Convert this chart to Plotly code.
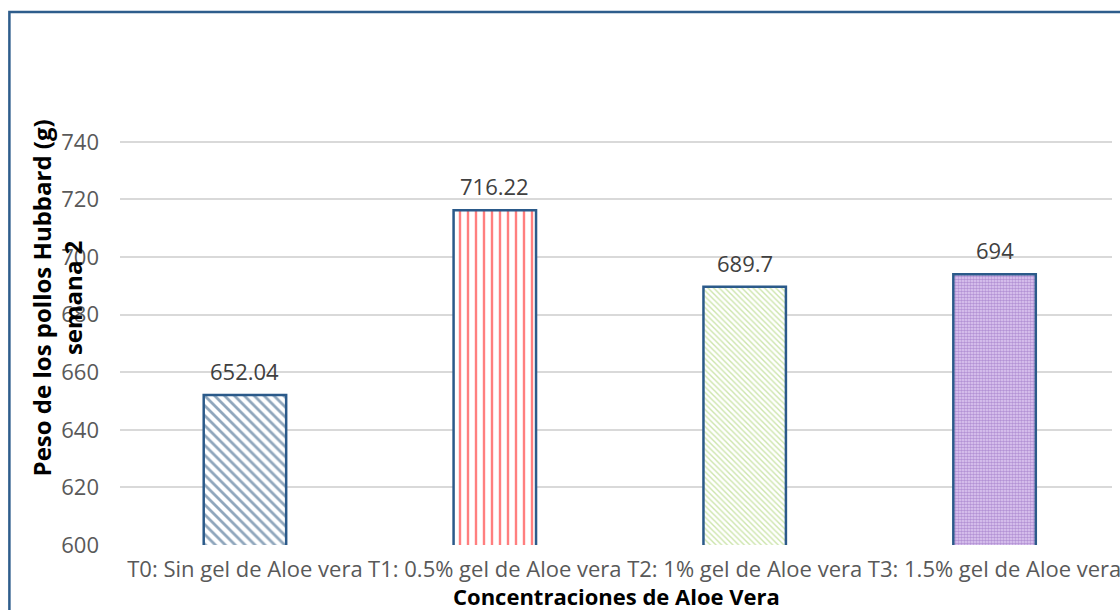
import plotly.graph_objects as go

categorias = [
    "T0: Sin gel de Aloe vera",
    "T1: 0.5% gel de Aloe vera",
    "T2: 1% gel de Aloe vera",
    "T3: 1.5% gel de Aloe vera",
]
peso = [652.04, 716.22, 689.7, 694]
etiquetas = ["652.04", "716.22", "689.7", "694"]
y_ticks = [600, 620, 640, 660, 680, 700, 720, 740]

# fill styles per bar (excel-like patterns)
fondos = ["white", "white", "white", "#E0CCF2"]
patron_color = ["#1F4E79", "#FF0000", "#9BCB5A", "#8558B8"]
patron_forma = ["\\", "|", "\\", "."]
patron_size = [7, 8, 4, 3]
patron_sol = [0.4, 0.3, 0.35, 0.55]

FONT = "Open Sans, Liberation Sans, Arial, sans-serif"

fig = go.Figure()

# one trace per bar so every bar keeps its own pattern
for i in range(len(categorias)):
    fig.add_trace(
        go.Bar(
            x=[categorias[i]],
            y=[peso[i]],
            width=0.33,
            marker=dict(
                color=fondos[i],
                line=dict(color="#2B5A8A", width=2.5),
                pattern=dict(
                    shape=patron_forma[i],
                    fgcolor=patron_color[i],
                    bgcolor=fondos[i],
                    size=patron_size[i],
                    solidity=patron_sol[i],
                    fillmode="overlay",
                ),
            ),
            hoverinfo="x+y",
        )
    )

# data labels above the bars
for c, v, t in zip(categorias, peso, etiquetas):
    fig.add_annotation(
        x=c, y=v, text=t, showarrow=False,
        yanchor="middle", yshift=24,
        font=dict(size=22, color="#404040", family=FONT),
    )

# axis titles (excel style, y title on two overlapping lines)
fig.add_annotation(
    xref="paper", yref="paper", x=-0.064, y=0.572,
    text="Peso de los pollos Hubbard (g)<br>semana 2",
    textangle=-90, showarrow=False, xanchor="center", yanchor="middle",
    font=dict(size=24, color="black", family=FONT, weight="bold"),
)
fig.add_annotation(
    xref="paper", yref="paper", x=0.501, y=-0.118,
    text="Concentraciones de Aloe Vera",
    showarrow=False, xanchor="center", yanchor="middle",
    font=dict(size=22, color="black", family=FONT, weight="bold"),
)

# chart border
fig.add_shape(
    type="rect", xref="paper", yref="paper",
    x0=-0.1115, x1=1.1, y0=-0.3, y1=1.2338,
    line=dict(color="#2E5D8C", width=2.5),
)

fig.update_layout(
    width=1120,
    height=610,
    margin=dict(l=120, r=0, t=113, b=65),
    paper_bgcolor="white",
    plot_bgcolor="white",
    showlegend=False,
    barmode="overlay",
    font=dict(family=FONT, color="#595959", size=22),
    xaxis=dict(
        range=[-0.5, 3.47],
        showgrid=False,
        showline=False,
        ticks="",
        tickfont=dict(size=22, color="#595959"),
        ticklabelstandoff=9,
    ),
    yaxis=dict(
        range=[600, 750],
        tickvals=y_ticks,
        showgrid=True,
        gridcolor="#D9D9D9",
        gridwidth=1.5,
        zeroline=False,
        showline=False,
        ticks="",
        tickfont=dict(size=22, color="#595959"),
        ticklabelstandoff=20,
    ),
)

fig.write_html(
    "out.html",
    config={"displayModeBar": False},
    post_script="document.body.style.margin='0';",
)
